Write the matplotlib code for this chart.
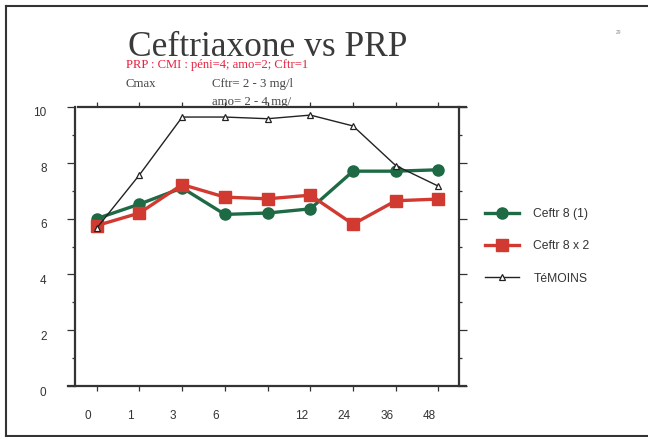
import matplotlib
matplotlib.use("Agg")
import matplotlib.pyplot as plt
from matplotlib.lines import Line2D
from matplotlib.transforms import ScaledTranslation

# Sampling times (h) and bactericidal titres
time_labels = ["0", "1", "3", "6", "", "12", "24", "36", "48"]
ceftr_8_1 = [6.0, 6.52, 7.1, 6.15, 6.2, 6.35, 7.7, 7.7, 7.75]
ceftr_8_x2 = [5.75, 6.2, 7.22, 6.77, 6.71, 6.84, 5.8, 6.64, 6.7]
temoins = [5.66, 7.57, 9.64, 9.64, 9.58, 9.71, 9.32, 7.9, 7.16]
series_names = ["Ceftr 8 (1)", "Ceftr 8 x 2", "TéMOINS"]
y_major = [0, 2, 4, 6, 8, 10]
y_minor = [1, 3, 5, 7, 9]

W, H, DPI = 648, 437, 100
fig = plt.figure(figsize=(W / DPI, H / DPI), dpi=DPI)
fig.patch.set_facecolor("white")

dark = "#333333"
green = "#1d6a45"
red = "#d13a31"

def fx(px):
    return px / W

def fy(py):
    return 1 - py / H

# slide frame
frame_kw = dict(color=dark, lw=1.5, transform=fig.transFigure)
fig.add_artist(Line2D([fx(6), 1.0], [fy(6), fy(6)], **frame_kw))
fig.add_artist(Line2D([fx(6), fx(6)], [fy(6), fy(435.5)], **frame_kw))
fig.add_artist(Line2D([fx(6), 1.0], [fy(435.5), fy(435.5)], **frame_kw))

ax = fig.add_axes([fx(75), fy(386), fx(459) - fx(75), fy(107) - fy(386)])
x = list(range(len(time_labels)))

ax.plot(x, ceftr_8_1, color=green, lw=2.4, marker="o", ms=8,
        mfc=green, mec=green, label=series_names[0], zorder=3)
ax.plot(x, ceftr_8_x2, color=red, lw=2.4, marker="s", ms=8.5,
        mfc=red, mec=red, label=series_names[1], zorder=4)
ax.plot(x, temoins, color="#222222", lw=1.0, marker="^", ms=4.5,
        mfc="white", mec="#222222", mew=0.9, label=series_names[2], zorder=5)

ax.set_xlim(-0.51, 8.48)
ax.set_ylim(0, 10)

for side in ("top", "bottom"):
    ax.spines[side].set_visible(False)
for side in ("left", "right"):
    ax.spines[side].set_color(dark)
    ax.spines[side].set_linewidth(1.6)

# horizontal axis rules running a little past the plot frame
rule_kw = dict(color=dark, lw=1.6, transform=ax.transAxes, clip_on=False)
ax.add_line(Line2D([-0.018, 1.018], [0, 0], **rule_kw))
ax.add_line(Line2D([0.008, 1.018], [1, 1], **rule_kw))

ax.set_xticks(x)
ax.set_xticklabels(time_labels)
ax.set_yticks(y_major)
ax.set_yticks(y_minor, minor=True)
ax.set_yticklabels([str(v) for v in y_major])

ax.tick_params(axis="x", which="both", direction="out", top=True, bottom=True,
               length=3.5, width=0.9, color=dark, pad=14,
               labelsize=8.5, labelcolor=dark)
ax.tick_params(axis="y", which="major", direction="out", left=True, right=True,
               length=5.5, width=0.9, color=dark, pad=15,
               labelsize=8.5, labelcolor=dark)
ax.tick_params(axis="y", which="minor", direction="out", left=True, right=True,
               length=2.5, width=0.9, color=dark)

for lab in ax.get_xticklabels():
    lab.set_fontfamily("Liberation Sans")
    lab.set_transform(lab.get_transform() + ScaledTranslation(-9 / DPI, 0, fig.dpi_scale_trans))
for lab in ax.get_yticklabels():
    lab.set_fontfamily("Liberation Sans")
    lab.set_transform(lab.get_transform() + ScaledTranslation(0, -5 / DPI, fig.dpi_scale_trans))

# titles and notes
fig.text(fx(128), fy(55.5), "Ceftriaxone vs PRP", family="Liberation Serif",
         fontsize=25.5, color="#3a3a3a", va="baseline", ha="left")
fig.text(fx(126), fy(68), "PRP : CMI : péni=4; amo=2; Cftr=1", family="Liberation Serif",
         fontsize=9.1, color="#e8213f", va="baseline", ha="left")
fig.text(fx(126), fy(87), "Cmax", family="Liberation Serif",
         fontsize=9.2, color="#444444", va="baseline", ha="left")
fig.text(fx(212), fy(87), "Cftr= 2 - 3 mg/l", family="Liberation Serif",
         fontsize=9.2, color="#444444", va="baseline", ha="left")
fig.text(fx(212), fy(105), "amo= 2 - 4 mg/", family="Liberation Serif",
         fontsize=9.2, color="#444444", va="baseline", ha="left", zorder=0)
fig.text(fx(619), fy(33), "29", family="Liberation Sans",
         fontsize=3.5, color="#888888", va="center", ha="center")

leg = fig.legend(loc="upper left", bbox_to_anchor=(fx(485), fy(208)),
                 frameon=False, prop={"family": "Liberation Sans", "size": 8.7},
                 handlelength=2.85, handletextpad=1.15, labelspacing=1.68,
                 borderpad=0, borderaxespad=0)
for t in leg.get_texts():
    t.set_color(dark)

fig.savefig("out.png", dpi=DPI)
